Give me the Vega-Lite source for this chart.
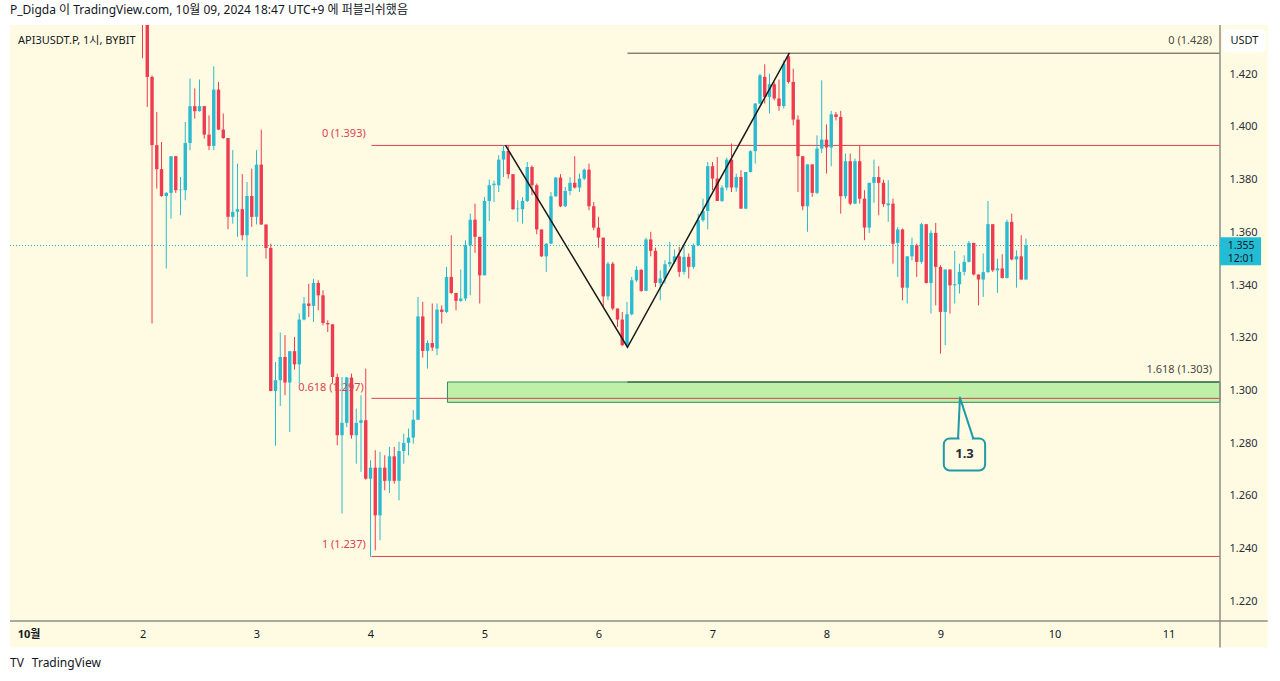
{
  "$schema": "https://vega.github.io/schema/vega-lite/v6.json",
  "width": 1210,
  "height": 596,
  "autosize": {"type": "none"},
  "padding": {"left": 10, "top": 25, "right": 60, "bottom": 60},
  "background": "#ffffff",
  "title": {"text": "P_Digda 이 TradingView.com, 10월 09, 2024 18:47 UTC+9 에 퍼블리쉬했음", "anchor": "start", "frame": "group", "offset": 7, "fontSize": 12, "fontWeight": "normal", "color": "#131722", "font": "Noto Sans, Noto Sans CJK KR"},
  "config": {
    "view": {"stroke": null},
    "font": "Noto Sans, Noto Sans CJK KR",
    "scale": {"continuousPadding": 0},
    "axis": {"grid": false, "ticks": false, "domain": false, "labelFont": "Noto Sans, Noto Sans CJK KR", "labelFontSize": 11, "labelColor": "#2a2e39", "zindex": 2}
  },
  "datasets": {
    "candles": [
      {"t":24,"o":1.450,"h":1.455,"l":1.4261,"c":1.445},
      {"t":25,"o":1.445,"h":1.450,"l":1.4076,"c":1.4190},
      {"t":26,"o":1.4190,"h":1.4196,"l":1.3254,"c":1.3931},
      {"t":27,"o":1.3931,"h":1.4057,"l":1.3766,"c":1.3840},
      {"t":28,"o":1.3840,"h":1.3943,"l":1.3735,"c":1.3738},
      {"t":29,"o":1.3738,"h":1.3752,"l":1.3463,"c":1.3750},
      {"t":30,"o":1.3750,"h":1.3889,"l":1.3652,"c":1.3889},
      {"t":31,"o":1.3889,"h":1.3890,"l":1.3750,"c":1.3760},
      {"t":32,"o":1.3760,"h":1.3810,"l":1.3665,"c":1.3762},
      {"t":33,"o":1.3760,"h":1.4019,"l":1.3722,"c":1.3939},
      {"t":34,"o":1.3939,"h":1.4184,"l":1.3912,"c":1.4079},
      {"t":35,"o":1.4079,"h":1.4146,"l":1.4032,"c":1.4060},
      {"t":36,"o":1.4060,"h":1.4180,"l":1.4058,"c":1.4079},
      {"t":37,"o":1.4079,"h":1.4080,"l":1.3956,"c":1.3971},
      {"t":38,"o":1.3971,"h":1.4044,"l":1.3912,"c":1.3928},
      {"t":39,"o":1.3928,"h":1.4230,"l":1.3912,"c":1.4142},
      {"t":40,"o":1.4142,"h":1.4171,"l":1.3988,"c":1.3990},
      {"t":41,"o":1.3990,"h":1.4051,"l":1.3955,"c":1.3958},
      {"t":42,"o":1.3958,"h":1.3958,"l":1.3612,"c":1.3659},
      {"t":43,"o":1.3659,"h":1.3912,"l":1.3633,"c":1.3678},
      {"t":44,"o":1.3678,"h":1.3861,"l":1.3583,"c":1.3688},
      {"t":45,"o":1.3688,"h":1.3821,"l":1.3570,"c":1.3589},
      {"t":46,"o":1.3589,"h":1.3791,"l":1.3431,"c":1.3738},
      {"t":47,"o":1.3738,"h":1.3842,"l":1.3621,"c":1.3659},
      {"t":48,"o":1.3659,"h":1.3912,"l":1.3630,"c":1.3857},
      {"t":49,"o":1.3857,"h":1.3990,"l":1.3628,"c":1.3630},
      {"t":50,"o":1.3630,"h":1.3630,"l":1.3500,"c":1.3541},
      {"t":51,"o":1.3541,"h":1.3557,"l":1.2997,"c":1.2998},
      {"t":52,"o":1.2998,"h":1.3108,"l":1.2790,"c":1.3039},
      {"t":53,"o":1.3039,"h":1.3220,"l":1.2941,"c":1.3127},
      {"t":54,"o":1.3127,"h":1.3210,"l":1.2982,"c":1.3030},
      {"t":55,"o":1.3030,"h":1.3149,"l":1.2842,"c":1.3149},
      {"t":56,"o":1.3149,"h":1.3203,"l":1.3079,"c":1.3099},
      {"t":57,"o":1.3099,"h":1.3292,"l":1.3026,"c":1.3269},
      {"t":58,"o":1.3269,"h":1.3355,"l":1.3266,"c":1.3330},
      {"t":59,"o":1.3330,"h":1.3405,"l":1.3279,"c":1.3321},
      {"t":60,"o":1.3321,"h":1.3424,"l":1.3260,"c":1.3408},
      {"t":61,"o":1.3408,"h":1.3418,"l":1.3304,"c":1.3361},
      {"t":62,"o":1.3361,"h":1.3380,"l":1.3247,"c":1.3256},
      {"t":63,"o":1.3256,"h":1.3266,"l":1.3222,"c":1.3251},
      {"t":64,"o":1.3251,"h":1.3252,"l":1.3026,"c":1.3051},
      {"t":65,"o":1.3051,"h":1.3064,"l":1.2792,"c":1.2830},
      {"t":66,"o":1.2830,"h":1.3051,"l":1.2533,"c":1.2877},
      {"t":67,"o":1.2877,"h":1.3051,"l":1.2861,"c":1.3049},
      {"t":68,"o":1.3049,"h":1.3064,"l":1.2817,"c":1.2830},
      {"t":69,"o":1.2830,"h":1.2931,"l":1.2722,"c":1.2877},
      {"t":70,"o":1.2877,"h":1.2982,"l":1.2691,"c":1.2887},
      {"t":71,"o":1.2887,"h":1.3083,"l":1.2661,"c":1.2665},
      {"t":72,"o":1.2665,"h":1.2735,"l":1.2368,"c":1.2707},
      {"t":73,"o":1.2707,"h":1.2773,"l":1.2393,"c":1.2526},
      {"t":74,"o":1.2526,"h":1.2767,"l":1.2431,"c":1.2707},
      {"t":75,"o":1.2707,"h":1.2754,"l":1.2621,"c":1.2657},
      {"t":76,"o":1.2657,"h":1.2786,"l":1.2611,"c":1.2750},
      {"t":77,"o":1.2750,"h":1.2786,"l":1.2646,"c":1.2657},
      {"t":78,"o":1.2657,"h":1.2805,"l":1.2583,"c":1.2770},
      {"t":79,"o":1.2770,"h":1.2836,"l":1.2722,"c":1.2801},
      {"t":80,"o":1.2801,"h":1.2855,"l":1.2754,"c":1.2821},
      {"t":81,"o":1.2821,"h":1.2925,"l":1.2798,"c":1.2889},
      {"t":82,"o":1.2889,"h":1.3355,"l":1.2887,"c":1.3281},
      {"t":83,"o":1.3281,"h":1.3336,"l":1.3125,"c":1.3150},
      {"t":84,"o":1.3150,"h":1.3190,"l":1.3083,"c":1.3180},
      {"t":85,"o":1.3180,"h":1.3330,"l":1.3150,"c":1.3163},
      {"t":86,"o":1.3159,"h":1.3330,"l":1.3134,"c":1.3307},
      {"t":87,"o":1.3307,"h":1.3323,"l":1.3254,"c":1.3298},
      {"t":88,"o":1.3298,"h":1.3469,"l":1.3294,"c":1.3431},
      {"t":89,"o":1.3431,"h":1.3589,"l":1.3367,"c":1.3370},
      {"t":90,"o":1.3370,"h":1.3370,"l":1.3304,"c":1.3340},
      {"t":91,"o":1.3340,"h":1.3459,"l":1.3336,"c":1.3349},
      {"t":92,"o":1.3349,"h":1.3570,"l":1.3340,"c":1.3551},
      {"t":93,"o":1.3551,"h":1.3671,"l":1.3361,"c":1.3648},
      {"t":94,"o":1.3648,"h":1.3709,"l":1.3522,"c":1.3583},
      {"t":95,"o":1.3583,"h":1.3583,"l":1.3330,"c":1.3437},
      {"t":96,"o":1.3437,"h":1.3734,"l":1.3437,"c":1.3719},
      {"t":97,"o":1.3719,"h":1.3800,"l":1.3643,"c":1.3779},
      {"t":98,"o":1.3779,"h":1.3796,"l":1.3715,"c":1.3785},
      {"t":99,"o":1.3779,"h":1.3893,"l":1.3753,"c":1.3876},
      {"t":100,"o":1.3876,"h":1.3931,"l":1.3810,"c":1.3909},
      {"t":101,"o":1.3909,"h":1.3931,"l":1.3804,"c":1.3821},
      {"t":102,"o":1.3821,"h":1.3821,"l":1.3685,"c":1.3688},
      {"t":103,"o":1.3688,"h":1.3722,"l":1.3640,"c":1.3690},
      {"t":104,"o":1.3688,"h":1.3734,"l":1.3633,"c":1.3719},
      {"t":105,"o":1.3719,"h":1.3867,"l":1.3715,"c":1.3848},
      {"t":106,"o":1.3848,"h":1.3854,"l":1.3741,"c":1.3779},
      {"t":107,"o":1.3779,"h":1.3785,"l":1.3593,"c":1.3611},
      {"t":108,"o":1.3611,"h":1.3611,"l":1.3507,"c":1.3509},
      {"t":109,"o":1.3509,"h":1.3559,"l":1.3450,"c":1.3557},
      {"t":110,"o":1.3557,"h":1.3753,"l":1.3555,"c":1.3737},
      {"t":111,"o":1.3737,"h":1.3810,"l":1.3735,"c":1.3808},
      {"t":112,"o":1.3808,"h":1.3821,"l":1.3696,"c":1.3699},
      {"t":113,"o":1.3699,"h":1.3772,"l":1.3696,"c":1.3757},
      {"t":114,"o":1.3757,"h":1.3810,"l":1.3741,"c":1.3788},
      {"t":115,"o":1.3788,"h":1.3889,"l":1.3766,"c":1.3770},
      {"t":116,"o":1.3770,"h":1.3823,"l":1.3753,"c":1.3804},
      {"t":117,"o":1.3804,"h":1.3842,"l":1.3798,"c":1.3838},
      {"t":118,"o":1.3838,"h":1.3861,"l":1.3684,"c":1.3699},
      {"t":119,"o":1.3699,"h":1.3715,"l":1.3608,"c":1.3618},
      {"t":120,"o":1.3618,"h":1.3659,"l":1.3542,"c":1.3580},
      {"t":121,"o":1.3580,"h":1.3580,"l":1.3317,"c":1.3357},
      {"t":122,"o":1.3357,"h":1.3488,"l":1.3342,"c":1.3481},
      {"t":123,"o":1.3481,"h":1.3488,"l":1.3304,"c":1.3311},
      {"t":124,"o":1.3311,"h":1.3311,"l":1.3241,"c":1.3269},
      {"t":125,"o":1.3269,"h":1.3298,"l":1.3168,"c":1.3172},
      {"t":126,"o":1.3172,"h":1.3336,"l":1.3163,"c":1.3289},
      {"t":127,"o":1.3289,"h":1.3431,"l":1.3285,"c":1.3418},
      {"t":128,"o":1.3418,"h":1.3471,"l":1.3412,"c":1.3458},
      {"t":129,"o":1.3458,"h":1.3460,"l":1.3374,"c":1.3378},
      {"t":130,"o":1.3378,"h":1.3580,"l":1.3377,"c":1.3573},
      {"t":131,"o":1.3573,"h":1.3602,"l":1.3509,"c":1.3530},
      {"t":132,"o":1.3530,"h":1.3542,"l":1.3393,"c":1.3408},
      {"t":133,"o":1.3408,"h":1.3456,"l":1.3342,"c":1.3425},
      {"t":134,"o":1.3425,"h":1.3494,"l":1.3406,"c":1.3479},
      {"t":135,"o":1.3479,"h":1.3564,"l":1.3469,"c":1.3488},
      {"t":136,"o":1.3488,"h":1.3535,"l":1.3481,"c":1.3509},
      {"t":137,"o":1.3509,"h":1.3545,"l":1.3431,"c":1.3450},
      {"t":138,"o":1.3450,"h":1.3551,"l":1.3440,"c":1.3507},
      {"t":139,"o":1.3507,"h":1.3520,"l":1.3425,"c":1.3469},
      {"t":140,"o":1.3469,"h":1.3557,"l":1.3462,"c":1.3551},
      {"t":141,"o":1.3551,"h":1.3671,"l":1.3548,"c":1.3646},
      {"t":142,"o":1.3646,"h":1.3728,"l":1.3640,"c":1.3681},
      {"t":143,"o":1.3681,"h":1.3867,"l":1.3611,"c":1.3851},
      {"t":144,"o":1.3851,"h":1.3867,"l":1.3760,"c":1.3804},
      {"t":145,"o":1.3804,"h":1.3886,"l":1.3719,"c":1.3719},
      {"t":146,"o":1.3719,"h":1.3779,"l":1.3715,"c":1.3770},
      {"t":147,"o":1.3770,"h":1.3884,"l":1.3760,"c":1.3876},
      {"t":148,"o":1.3876,"h":1.3937,"l":1.3753,"c":1.3770},
      {"t":149,"o":1.3770,"h":1.3823,"l":1.3754,"c":1.3810},
      {"t":150,"o":1.3810,"h":1.3836,"l":1.3690,"c":1.3690},
      {"t":151,"o":1.3690,"h":1.3829,"l":1.3688,"c":1.3829},
      {"t":152,"o":1.3829,"h":1.3912,"l":1.3827,"c":1.3908},
      {"t":153,"o":1.3908,"h":1.4090,"l":1.3861,"c":1.4089},
      {"t":154,"o":1.4089,"h":1.4202,"l":1.4087,"c":1.4196},
      {"t":155,"o":1.4190,"h":1.4238,"l":1.4089,"c":1.4114},
      {"t":156,"o":1.4114,"h":1.4202,"l":1.4051,"c":1.4162},
      {"t":157,"o":1.4162,"h":1.4171,"l":1.4101,"c":1.4108},
      {"t":158,"o":1.4108,"h":1.4180,"l":1.4061,"c":1.4079},
      {"t":159,"o":1.4079,"h":1.4253,"l":1.4070,"c":1.4240},
      {"t":160,"o":1.4268,"h":1.4280,"l":1.4165,"c":1.4171},
      {"t":161,"o":1.4171,"h":1.4221,"l":1.4006,"c":1.4028},
      {"t":162,"o":1.4028,"h":1.4044,"l":1.3753,"c":1.3889},
      {"t":163,"o":1.3889,"h":1.3889,"l":1.3684,"c":1.3699},
      {"t":164,"o":1.3699,"h":1.3858,"l":1.3602,"c":1.3858},
      {"t":165,"o":1.3858,"h":1.3858,"l":1.3735,"c":1.3750},
      {"t":166,"o":1.3750,"h":1.3968,"l":1.3745,"c":1.3918},
      {"t":167,"o":1.3918,"h":1.4177,"l":1.3901,"c":1.3952},
      {"t":168,"o":1.3952,"h":1.4010,"l":1.3823,"c":1.3922},
      {"t":169,"o":1.3922,"h":1.4061,"l":1.3851,"c":1.4048},
      {"t":170,"o":1.4048,"h":1.4057,"l":1.4025,"c":1.4038},
      {"t":171,"o":1.4038,"h":1.4061,"l":1.3671,"c":1.3737},
      {"t":172,"o":1.3737,"h":1.3899,"l":1.3728,"c":1.3870},
      {"t":173,"o":1.3870,"h":1.3899,"l":1.3703,"c":1.3709},
      {"t":174,"o":1.3709,"h":1.3880,"l":1.3707,"c":1.3870},
      {"t":175,"o":1.3870,"h":1.3931,"l":1.3709,"c":1.3728},
      {"t":176,"o":1.3728,"h":1.3760,"l":1.3570,"c":1.3618},
      {"t":177,"o":1.3618,"h":1.3788,"l":1.3598,"c":1.3788},
      {"t":178,"o":1.3788,"h":1.3876,"l":1.3712,"c":1.3810},
      {"t":179,"o":1.3810,"h":1.3851,"l":1.3665,"c":1.3788},
      {"t":180,"o":1.3788,"h":1.3800,"l":1.3697,"c":1.3707},
      {"t":181,"o":1.3703,"h":1.3798,"l":1.3640,"c":1.3710},
      {"t":182,"o":1.3709,"h":1.3728,"l":1.3481,"c":1.3557},
      {"t":183,"o":1.3560,"h":1.3620,"l":1.3431,"c":1.3611},
      {"t":184,"o":1.3611,"h":1.3615,"l":1.3342,"c":1.3390},
      {"t":185,"o":1.3390,"h":1.3509,"l":1.3330,"c":1.3509},
      {"t":186,"o":1.3509,"h":1.3580,"l":1.3494,"c":1.3551},
      {"t":187,"o":1.3551,"h":1.3557,"l":1.3431,"c":1.3488},
      {"t":188,"o":1.3488,"h":1.3636,"l":1.3481,"c":1.3631},
      {"t":189,"o":1.3631,"h":1.3631,"l":1.3406,"c":1.3408},
      {"t":190,"o":1.3408,"h":1.3608,"l":1.3292,"c":1.3598},
      {"t":191,"o":1.3598,"h":1.3636,"l":1.3323,"c":1.3469},
      {"t":192,"o":1.3469,"h":1.3475,"l":1.3140,"c":1.3298},
      {"t":193,"o":1.3298,"h":1.3459,"l":1.3172,"c":1.3459},
      {"t":194,"o":1.3459,"h":1.3459,"l":1.3292,"c":1.3399},
      {"t":195,"o":1.3399,"h":1.3530,"l":1.3330,"c":1.3403},
      {"t":196,"o":1.3403,"h":1.3481,"l":1.3368,"c":1.3450},
      {"t":197,"o":1.3450,"h":1.3513,"l":1.3437,"c":1.3488},
      {"t":198,"o":1.3488,"h":1.3567,"l":1.3486,"c":1.3560},
      {"t":199,"o":1.3560,"h":1.3560,"l":1.3437,"c":1.3440},
      {"t":200,"o":1.3440,"h":1.3440,"l":1.3323,"c":1.3421},
      {"t":201,"o":1.3421,"h":1.3520,"l":1.3355,"c":1.3449},
      {"t":202,"o":1.3449,"h":1.3719,"l":1.3447,"c":1.3631},
      {"t":203,"o":1.3631,"h":1.3631,"l":1.3450,"c":1.3456},
      {"t":204,"o":1.3456,"h":1.3500,"l":1.3370,"c":1.3463},
      {"t":205,"o":1.3463,"h":1.3517,"l":1.3425,"c":1.3427},
      {"t":206,"o":1.3427,"h":1.3648,"l":1.3425,"c":1.3640},
      {"t":207,"o":1.3640,"h":1.3671,"l":1.3494,"c":1.3497},
      {"t":208,"o":1.3497,"h":1.3532,"l":1.3390,"c":1.3509},
      {"t":209,"o":1.3509,"h":1.3589,"l":1.3420,"c":1.3421},
      {"t":210,"o":1.3421,"h":1.3576,"l":1.3420,"c":1.3550}
    ]
  },
  "layer": [
    {
      "data": {"values": [{"t": -3.9, "t2": 260.9, "p": 1.4387, "p2": 1.2024}]},
      "mark": {"type": "rect", "fill": "#fffbe3", "clip": false},
      "encoding": {
        "x": {"field": "t", "type": "quantitative", "scale": {"domain": [-3.9, 250.85], "nice": false, "zero": false, "padding": 0},
              "axis": {"title": null, "zindex": 2, "values": [0, 24, 48, 72, 96, 120, 144, 168, 192, 216, 240], "labelExpr": "datum.value == 0 ? '10월' : '' + (datum.value / 24 + 1)", "labelPadding": 7, "labelColor": "#131722", "labelFontWeight": {"condition": {"test": "datum.value == 0", "value": "bold"}, "value": "normal"}}},
        "x2": {"field": "t2"},
        "y": {"field": "p", "type": "quantitative", "scale": {"domain": [1.2125, 1.4387], "nice": false, "zero": false, "padding": 0},
              "axis": {"title": null, "zindex": 2, "orient": "right", "values": [1.22, 1.24, 1.26, 1.28, 1.30, 1.32, 1.34, 1.36, 1.38, 1.40, 1.42], "format": ".3f", "labelPadding": 9}},
        "y2": {"field": "p2"}
      }
    },
    {
      "data": {"values": [{"t": 88.2, "t2": 250.85, "p": 1.3032, "p2": 1.2955}]},
      "mark": {"type": "rect", "fill": "#bff0a8", "stroke": "#2f8a63", "strokeWidth": 1},
      "encoding": {
        "x": {"field": "t", "type": "quantitative"},
        "x2": {"field": "t2"},
        "y": {"field": "p", "type": "quantitative"},
        "y2": {"field": "p2"}
      }
    },
    {
      "data": {"values": [
        {"t": 72.2, "t2": 250.85, "p": 1.393, "g": "red"},
        {"t": 72.2, "t2": 250.85, "p": 1.297, "g": "red"},
        {"t": 72.2, "t2": 250.85, "p": 1.237, "g": "red"},
        {"t": 126.1, "t2": 250.85, "p": 1.428, "g": "dark"},
        {"t": 126.1, "t2": 250.85, "p": 1.3032, "g": "green"}
      ]},
      "mark": {"type": "rule", "strokeWidth": 1},
      "encoding": {
        "x": {"field": "t", "type": "quantitative"},
        "x2": {"field": "t2"},
        "y": {"field": "p", "type": "quantitative"},
        "color": {"field": "g", "type": "nominal", "scale": {"domain": ["red", "dark", "green"], "range": ["#d9434f", "#4a4a44", "#1d4a33"]}, "legend": null}
      }
    },
    {
      "data": {"values": [{"t": -3.9, "t2": 250.85, "p": 1.355}]},
      "mark": {"type": "rule", "stroke": "#26b5c9", "strokeWidth": 1, "strokeDash": [1, 2]},
      "encoding": {
        "x": {"field": "t", "type": "quantitative"},
        "x2": {"field": "t2"},
        "y": {"field": "p", "type": "quantitative"}
      }
    },
    {
      "data": {"name": "candles"},
      "mark": {"type": "rule", "strokeWidth": 1, "clip": true},
      "encoding": {
        "x": {"field": "t", "type": "quantitative"},
        "y": {"field": "l", "type": "quantitative"},
        "y2": {"field": "h"},
        "color": {"condition": {"test": "datum.c >= datum.o", "value": "#2bbad0"}, "value": "#ee3b4f"}
      }
    },
    {
      "data": {"name": "candles"},
      "mark": {"type": "bar", "size": 3.4, "clip": true},
      "encoding": {
        "x": {"field": "t", "type": "quantitative"},
        "y": {"field": "o", "type": "quantitative"},
        "y2": {"field": "c"},
        "color": {"condition": {"test": "datum.c >= datum.o", "value": "#2bbad0"}, "value": "#ee3b4f"}
      }
    },
    {
      "data": {"values": [{"t": 100.4, "p": 1.3931, "k": 1}, {"t": 126.1, "p": 1.3164, "k": 2}, {"t": 160.2, "p": 1.4281, "k": 3}]},
      "mark": {"type": "line", "stroke": "#1b1b1b", "strokeWidth": 1.5},
      "encoding": {
        "x": {"field": "t", "type": "quantitative"},
        "y": {"field": "p", "type": "quantitative"},
        "order": {"field": "k"}
      }
    },
    {
      "data": {"values": [
        {"t": 71.0, "p": 1.3972, "label": "0 (1.393)", "g": "red"},
        {"t": 70.6, "p": 1.3008, "label": "0.618 (1.297)", "g": "red"},
        {"t": 71.0, "p": 1.2413, "label": "1 (1.237)", "g": "red"},
        {"t": 249.2, "p": 1.4325, "label": "0 (1.428)", "g": "dark"},
        {"t": 249.2, "p": 1.3077, "label": "1.618 (1.303)", "g": "dark"}
      ]},
      "mark": {"type": "text", "align": "right", "baseline": "middle", "fontSize": 11},
      "encoding": {
        "x": {"field": "t", "type": "quantitative"},
        "y": {"field": "p", "type": "quantitative"},
        "text": {"field": "label"},
        "color": {"field": "g", "type": "nominal", "scale": {"domain": ["red", "dark"], "range": ["#e0505c", "#2a2e39"]}, "legend": null}
      }
    },
    {
      "data": {"values": [{"t": 192.7, "t2": 201.4, "p": 1.2818, "p2": 1.2696}]},
      "mark": {"type": "rect", "fill": "#fffbe3", "stroke": "#1e9aa8", "strokeWidth": 2, "cornerRadius": 6},
      "encoding": {
        "x": {"field": "t", "type": "quantitative"},
        "x2": {"field": "t2"},
        "y": {"field": "p", "type": "quantitative"},
        "y2": {"field": "p2"}
      }
    },
    {
      "data": {"values": [{"t": 196.0, "t2": 198.6, "p": 1.2818}]},
      "mark": {"type": "rule", "stroke": "#fffbe3", "strokeWidth": 3},
      "encoding": {
        "x": {"field": "t", "type": "quantitative"},
        "x2": {"field": "t2"},
        "y": {"field": "p", "type": "quantitative"}
      }
    },
    {
      "data": {"values": [{"t": 195.7, "p": 1.2818, "k": 1}, {"t": 196.1, "p": 1.2973, "k": 2}, {"t": 198.9, "p": 1.2818, "k": 3}]},
      "mark": {"type": "line", "stroke": "#1e9aa8", "strokeWidth": 2, "strokeJoin": "round"},
      "encoding": {
        "x": {"field": "t", "type": "quantitative"},
        "y": {"field": "p", "type": "quantitative"},
        "order": {"field": "k"}
      }
    },
    {
      "data": {"values": [{"t": 197.05, "p": 1.2757, "label": "1.3"}]},
      "mark": {"type": "text", "align": "center", "baseline": "middle", "fontSize": 13, "fontWeight": "bold", "color": "#2a2e39"},
      "encoding": {
        "x": {"field": "t", "type": "quantitative"},
        "y": {"field": "p", "type": "quantitative"},
        "text": {"field": "label"}
      }
    },
    {
      "data": {"values": [{"t": -2.2, "p": 1.4325, "label": "API3USDT.P, 1시, BYBIT"}]},
      "mark": {"type": "text", "align": "left", "baseline": "middle", "fontSize": 11, "color": "#131722"},
      "encoding": {
        "x": {"field": "t", "type": "quantitative"},
        "y": {"field": "p", "type": "quantitative"},
        "text": {"field": "label"}
      }
    },
    {
      "data": {"values": [{"t": 250.85, "p": 1.4387, "p2": 1.2024}]},
      "mark": {"type": "rule", "stroke": "#8e8e86", "strokeWidth": 1.5, "clip": false},
      "encoding": {
        "x": {"field": "t", "type": "quantitative"},
        "y": {"field": "p", "type": "quantitative"},
        "y2": {"field": "p2"}
      }
    },
    {
      "data": {"values": [{"t": -3.9, "t2": 260.9, "p": 1.2125}]},
      "mark": {"type": "rule", "stroke": "#8e8e86", "strokeWidth": 1.5, "clip": false},
      "encoding": {
        "x": {"field": "t", "type": "quantitative"},
        "x2": {"field": "t2"},
        "y": {"field": "p", "type": "quantitative"}
      }
    },
    {
      "data": {"values": [{"t": 251.5, "t2": 260.5, "p": 1.4371, "p2": 1.4284}]},
      "mark": {"type": "rect", "fill": "#ffffff", "cornerRadius": 4, "clip": false},
      "encoding": {
        "x": {"field": "t", "type": "quantitative"},
        "x2": {"field": "t2"},
        "y": {"field": "p", "type": "quantitative"},
        "y2": {"field": "p2"}
      }
    },
    {
      "data": {"values": [{"t": 250.85, "t2": 259.5, "p": 1.3581, "p2": 1.3475}]},
      "mark": {"type": "rect", "fill": "#22bcd4", "clip": false},
      "encoding": {
        "x": {"field": "t", "type": "quantitative"},
        "x2": {"field": "t2"},
        "y": {"field": "p", "type": "quantitative"},
        "y2": {"field": "p2"}
      }
    },
    {
      "data": {"values": [
        {"t": 256.0, "p": 1.4327, "label": "USDT", "s": 11},
        {"t": 255.3, "p": 1.3549, "label": "1.355", "s": 10.5},
        {"t": 255.3, "p": 1.3499, "label": "12:01", "s": 10.5}
      ]},
      "mark": {"type": "text", "align": "center", "baseline": "middle", "color": "#131722", "clip": false},
      "encoding": {
        "x": {"field": "t", "type": "quantitative"},
        "y": {"field": "p", "type": "quantitative"},
        "text": {"field": "label"},
        "size": {"field": "s", "type": "quantitative", "scale": null}
      }
    },
    {
      "data": {"values": [
        {"t": -3.9, "p": 1.1967, "label": "TV", "w": "b"},
        {"t": 0.7, "p": 1.1967, "label": "TradingView", "w": "n"}
      ]},
      "mark": {"type": "text", "align": "left", "baseline": "middle", "fontSize": 12, "color": "#131722", "clip": false},
      "encoding": {
        "x": {"field": "t", "type": "quantitative"},
        "y": {"field": "p", "type": "quantitative"},
        "text": {"field": "label"},
        "fontWeight": {"condition": {"test": "datum.w == 'b'", "value": "bold"}, "value": "normal"}
      }
    }
  ]
}
